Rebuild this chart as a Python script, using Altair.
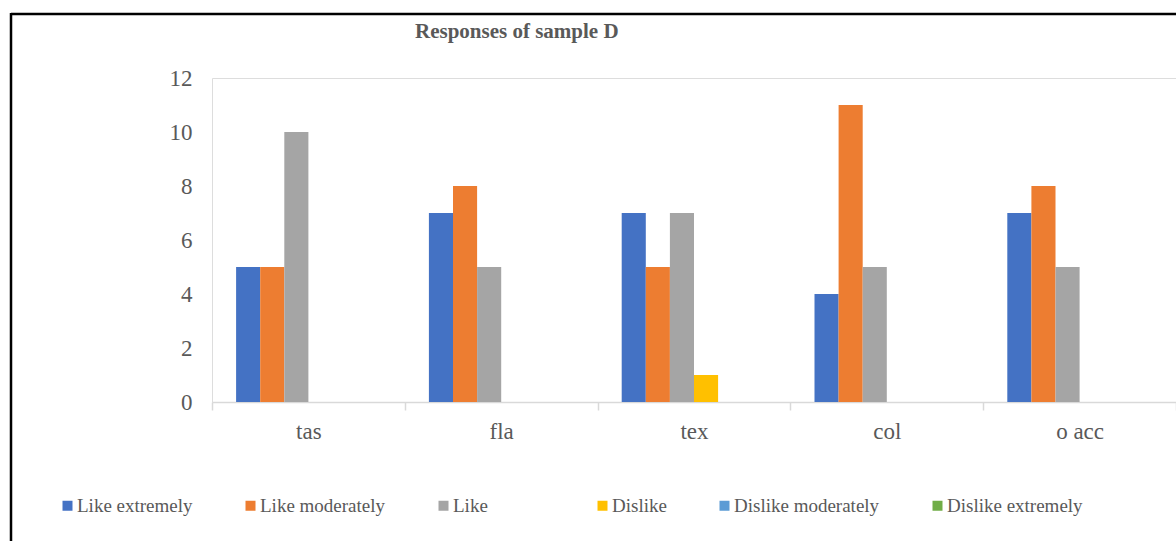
import altair as alt
import pandas as pd

# Sensory attributes rated for sample D
categories = ["tas", "fla", "tex", "col", "o acc"]
series = [
    "Like extremely",
    "Like moderately",
    "Like",
    "Dislike",
    "Dislike moderately",
    "Dislike extremely",
]

# Number of panelists giving each response, per attribute
like_extremely = [5, 7, 7, 4, 7]
like_moderately = [5, 8, 5, 11, 8]
like = [10, 5, 7, 5, 5]
dislike = [0, 0, 1, 0, 0]
dislike_moderately = [0, 0, 0, 0, 0]
dislike_extremely = [0, 0, 0, 0, 0]

colors = ["#4472C4", "#ED7D31", "#A5A5A5", "#FFC000", "#5B9BD5", "#70AD47"]
y_ticks = [0, 2, 4, 6, 8, 10, 12]
chart_title = "Responses of sample D"

columns = [like_extremely, like_moderately, like, dislike,
           dislike_moderately, dislike_extremely]
rows = []
for name, values in zip(series, columns):
    for cat, v in zip(categories, values):
        rows.append({"attribute": cat, "response": name, "count": v})
df = pd.DataFrame(rows)

FONT = "Liberation Serif"
TEXT = "#595959"
AXIS_LINE = "#D9D9D9"

# widen the short "Like" entry so the legend row spreads out; the trailing
# zero-width space keeps the padding from being trimmed when measured
pad = "\u2003" * 3 + "\u200b"
label_expr = f"datum.value == 'Like' ? 'Like{pad}' : datum.label"

bars = alt.Chart(df).mark_bar().encode(
    x=alt.X(
        "attribute:N",
        sort=categories,
        scale=alt.Scale(paddingInner=0, paddingOuter=0),
        axis=alt.Axis(
            title=None,
            labelAngle=0,
            labelFont=FONT,
            labelFontSize=23,
            labelColor=TEXT,
            labelPadding=10,
            domainColor=AXIS_LINE,
            domainWidth=1.5,
            tickColor=AXIS_LINE,
            tickWidth=1.5,
            tickSize=8,
            tickBand="extent",
        ),
    ),
    xOffset=alt.XOffset(
        "response:N",
        sort=series,
        scale=alt.Scale(domain=series, paddingInner=0, paddingOuter=1),
    ),
    y=alt.Y(
        "count:Q",
        scale=alt.Scale(domain=[0, 12], nice=False),
        axis=alt.Axis(
            title=None,
            values=y_ticks,
            grid=False,
            domain=False,
            ticks=False,
            tickSize=0,
            labelPadding=20,
            labelFont=FONT,
            labelFontSize=23,
            labelColor=TEXT,
        ),
    ),
    color=alt.Color(
        "response:N",
        sort=series,
        scale=alt.Scale(domain=series, range=colors),
        legend=alt.Legend(
            title=None,
            orient="none",
            legendX=-154,
            legendY=418,
            direction="horizontal",
            symbolType="square",
            symbolSize=100,
            symbolStrokeWidth=0,
            labelFont=FONT,
            labelFontSize=19,
            labelColor=TEXT,
            labelOffset=0,
            columnPadding=48,
            padding=0,
            labelExpr=label_expr,
        ),
    ),
)

# chart heading
title_text = alt.Chart(pd.DataFrame({"t": [chart_title]})).mark_text(
    align="left",
    baseline="alphabetic",
    font=FONT,
    fontSize=21,
    fontWeight="bold",
    color=TEXT,
).encode(x=alt.value(203), y=alt.value(-40), text="t:N")

# outer chart frame (top and left edges)
frame_df = pd.DataFrame({"edge": ["frame"]})
frame_top = alt.Chart(frame_df).mark_rule(color="black", strokeWidth=2.5).encode(
    x=alt.value(-201), x2=alt.value(980), y=alt.value(-64)
)
frame_left = alt.Chart(frame_df).mark_rule(color="black", strokeWidth=2.5).encode(
    x=alt.value(-201), y=alt.value(-65), y2=alt.value(480)
)

chart = (
    alt.layer(bars, title_text, frame_top, frame_left)
    .properties(
        width=964,
        height=324,
        autosize=alt.AutoSizeParams(type="none"),
        padding={"left": 212, "top": 78, "right": 0, "bottom": 139},
    )
    .configure_view(stroke="transparent")
    .configure(background="white")
)

chart.save("out.html", embed_options={"renderer": "svg", "actions": False})
